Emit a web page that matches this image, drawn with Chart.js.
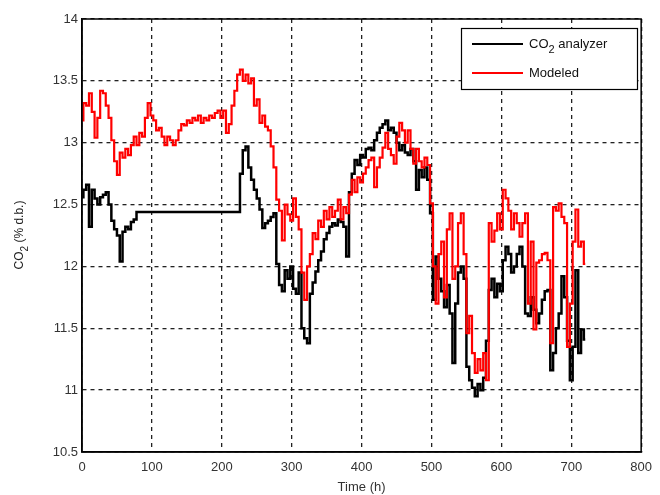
<!DOCTYPE html>
<html>
<head>
<meta charset="utf-8">
<script src="https://cdn.jsdelivr.net/npm/chart.js@4/dist/chart.umd.min.js"></script>
<style>
html,body{margin:0;padding:0;background:#fff;}
#wrap{width:660px;height:495px;position:relative;}
</style>
</head>
<body>
<div id="wrap"><canvas id="c" width="660" height="495"></canvas></div>
<script>
const hours = [0,4,8,12,16,20,24,28,32,36,40,44,48,52,56,60,64,68,72,76,80,84,88,92,96,100,104,108,112,116,120,124,128,132,136,140,144,148,152,156,160,164,168,172,176,180,184,188,192,196,200,204,208,212,216,220,224,228,232,236,240,244,248,252,256,260,264,268,272,276,280,284,288,292,296,300,304,308,312,316,320,324,328,332,336,340,344,348,352,356,360,364,368,372,376,380,384,388,392,396,400,404,408,412,416,420,424,428,432,436,440,444,448,452,456,460,464,468,472,476,480,484,488,492,496,500,504,508,512,516,520,524,528,532,536,540,544,548,552,556,560,564,568,572,576,580,584,588,592,596,600,604,608,612,616,620,624,628,632,636,640,644,648,652,656,660,664,668,672,676,680,684,688,692,696,700,704,708,712,716,720];

const co2Analyzer = [12.56,12.62,12.66,12.32,12.62,12.55,12.50,12.56,12.58,12.60,12.50,12.37,12.30,12.25,12.04,12.28,12.32,12.30,12.36,12.38,
12.44,12.44,12.44,12.44,12.44,12.44,12.44,12.44,12.44,12.44,12.44,12.44,12.44,12.44,12.44,12.44,12.44,12.44,12.44,12.44,
12.44,12.44,12.44,12.44,12.44,12.44,12.44,12.44,12.44,12.44,12.44,12.44,12.44,12.44,12.44,12.44,12.44,
12.75,12.94,12.97,12.80,12.70,12.62,12.55,12.46,12.31,12.35,12.37,12.40,12.43,
12.02,11.85,11.80,11.97,11.90,12.00,11.82,11.78,11.95,11.50,11.42,11.38,11.78,11.87,11.96,12.05,12.12,12.22,12.27,12.32,
12.35,12.33,12.38,12.36,12.32,12.08,12.60,12.75,12.86,12.82,12.90,12.88,12.95,12.96,12.94,13.02,13.08,13.12,13.15,13.18,
13.10,13.12,13.08,13.00,12.94,12.98,12.92,12.90,12.95,12.85,12.62,12.78,12.72,12.80,12.70,12.43,11.73,12.08,11.90,11.80,
11.67,11.85,11.62,11.22,11.70,11.95,12.00,11.90,11.19,11.08,11.02,10.95,11.05,11.00,11.10,11.40,11.81,11.90,11.75,11.86,
11.80,12.05,12.16,12.10,11.95,12.00,12.10,12.16,12.00,11.62,11.60,11.75,11.65,11.54,11.62,11.73,11.80,11.81,11.16,11.30,
11.50,11.62,11.92,11.75,11.40,11.08,11.35,11.97,11.30,11.49,11.41];

const modeled = [13.18,13.32,13.30,13.40,13.25,13.04,13.20,13.42,13.40,13.30,13.20,13.02,12.85,12.74,12.92,12.88,12.95,12.90,12.98,13.05,
12.98,13.08,13.05,13.20,13.32,13.22,13.18,13.10,13.12,13.05,12.98,13.05,13.02,12.98,13.02,13.10,13.15,13.14,13.18,13.16,
13.20,13.18,13.22,13.16,13.20,13.18,13.22,13.20,13.24,13.26,13.20,13.26,13.08,13.15,13.30,13.42,13.55,13.59,13.50,13.55,
13.48,13.52,13.30,13.35,13.16,13.22,13.13,13.10,12.97,12.80,12.54,12.45,12.21,12.50,12.42,12.37,12.55,12.40,12.30,11.95,
11.73,12.00,12.10,12.27,12.22,12.37,12.32,12.45,12.38,12.48,12.40,12.45,12.54,12.38,12.48,12.43,12.58,12.70,12.60,12.72,
12.68,12.75,12.80,12.86,12.88,12.64,12.80,12.88,12.96,13.08,12.95,12.90,12.83,13.05,13.16,13.10,13.00,13.10,12.95,12.83,
12.95,12.85,12.80,12.88,12.82,12.51,12.00,11.70,12.10,12.20,11.75,12.30,12.43,11.90,12.00,12.35,12.43,12.10,11.46,11.60,
11.30,11.14,11.25,11.16,11.30,11.08,12.35,12.20,12.29,12.43,12.30,12.62,12.55,12.45,12.30,12.43,12.35,12.24,12.35,12.43,
11.70,12.20,11.49,12.03,12.05,12.10,12.11,12.05,11.38,12.48,12.45,12.51,12.40,12.35,11.35,11.70,12.20,12.46,12.16,12.20,12.02];

const seriesLabels = ['CO\u2082 analyzer', 'Modeled'];
const xTicks = [0,100,200,300,400,500,600,700,800];
const yTicks = [10.5,11,11.5,12,12.5,13,13.5,14];

const toXY = (vals) => vals.map((v,i) => ({x: hours[i], y: v}));

const FONT = '"Liberation Sans", Arial, sans-serif';

const legendPlugin = {
  id: 'boxLegend',
  afterDatasetsDraw(chart) {
    const ctx = chart.ctx;
    const x0 = 461, y0 = 28, w = 176, h = 61;
    ctx.save();
    ctx.fillStyle = '#fff';
    ctx.fillRect(x0, y0, w, h);
    ctx.strokeStyle = '#000';
    ctx.lineWidth = 1.2;
    ctx.strokeRect(x0 + 0.5, y0 + 0.5, w, h);
    const rows = [44, 73];
    const cols = ['#000000', '#ff0000'];
    ctx.font = '13px ' + FONT;
    ctx.textBaseline = 'middle';
    ctx.textAlign = 'left';
    for (let i = 0; i < 2; i++) {
      ctx.strokeStyle = cols[i];
      ctx.lineWidth = 2;
      ctx.beginPath();
      ctx.moveTo(472, rows[i]);
      ctx.lineTo(523, rows[i]);
      ctx.stroke();
      ctx.fillStyle = '#111';
      if (i === 0) {
        ctx.fillText('CO', 529, rows[i]);
        const wco = ctx.measureText('CO').width;
        ctx.font = '11px ' + FONT;
        ctx.fillText('2', 529 + wco, rows[i] + 6);
        const w2 = ctx.measureText('2').width;
        ctx.font = '13px ' + FONT;
        ctx.fillText(' analyzer', 529 + wco + w2, rows[i]);
      } else {
        ctx.fillText(seriesLabels[1], 529, rows[i]);
      }
    }
    ctx.restore();
  }
};

const yTitlePlugin = {
  id: 'yTitle',
  afterDraw(chart) {
    const ctx = chart.ctx;
    ctx.save();
    ctx.translate(20, 235);
    ctx.rotate(-Math.PI / 2);
    ctx.fillStyle = '#222';
    ctx.textBaseline = 'middle';
    const p1 = 'CO', p3 = ' (% d.b.)';
    ctx.font = '12px ' + FONT;
    const w1 = ctx.measureText(p1).width, w3 = ctx.measureText(p3).width;
    ctx.font = '10px ' + FONT;
    const w2 = ctx.measureText('2').width;
    const total = w1 + w2 + w3;
    let x = -total / 2;
    ctx.textAlign = 'left';
    ctx.font = '12px ' + FONT;
    ctx.fillText(p1, x, 0); x += w1;
    ctx.font = '10px ' + FONT;
    ctx.fillText('2', x, 5); x += w2;
    ctx.font = '12px ' + FONT;
    ctx.fillText(p3, x, 0);
    ctx.restore();
  }
};

new Chart(document.getElementById('c'), {
  type: 'line',
  data: {
    datasets: [
      { label: seriesLabels[0], data: toXY(co2Analyzer), borderColor: '#000000', borderWidth: 2.5, pointRadius: 0, tension: 0, stepped: 'middle', order: 1 },
      { label: seriesLabels[1], data: toXY(modeled), borderColor: '#ff0000', borderWidth: 2.2, pointRadius: 0, tension: 0, stepped: 'middle', order: 0 }
    ]
  },
  options: {
    responsive: false,
    animation: false,
    events: [],
    layout: { padding: { left: 0, top: 19, right: 15, bottom: 0 } },
    plugins: { legend: { display: false }, tooltip: { enabled: false } },
    scales: {
      x: {
        type: 'linear', min: 0, max: 800,
        afterFit(s) { s.height = 43; },
        afterBuildTicks(s) { s.ticks = xTicks.map(v => ({ value: v })); },
        grid: { color: '#222', lineWidth: 1.3, drawTicks: false },
        border: { display: true, color: '#000', width: 1.5, dash: [4, 4] },
        ticks: { color: '#333', font: { size: 13, family: FONT }, padding: 8, maxRotation: 0 },
        title: { display: true, text: 'Time (h)', color: '#333', font: { size: 13, family: FONT }, padding: { top: 2, bottom: 0 } }
      },
      y: {
        type: 'linear', min: 10.5, max: 14,
        afterFit(s) { s.width = 82; },
        afterBuildTicks(s) { s.ticks = yTicks.map(v => ({ value: v })); },
        grid: { color: '#222', lineWidth: 1.3, drawTicks: false },
        border: { display: true, color: '#000', width: 1.5, dash: [4, 4] },
        ticks: { color: '#333', font: { size: 13, family: FONT }, padding: 4, callback: (v) => String(v) }
      }
    }
  },
  plugins: [{
    id: 'frame',
    beforeDraw(chart) {
      const ctx = chart.ctx;
      ctx.save();
      ctx.fillStyle = '#fff';
      ctx.fillRect(0, 0, chart.width, chart.height);
      ctx.restore();
    },
    afterDraw(chart) {
      const { ctx, chartArea: a } = chart;
      ctx.save();
      ctx.setLineDash([]);
      ctx.strokeStyle = '#000';
      ctx.lineWidth = 1.5;
      ctx.strokeRect(a.left, a.top, a.right - a.left, a.bottom - a.top);
      ctx.restore();
    }
  }, legendPlugin, yTitlePlugin]
});
</script>
</body>
</html>
